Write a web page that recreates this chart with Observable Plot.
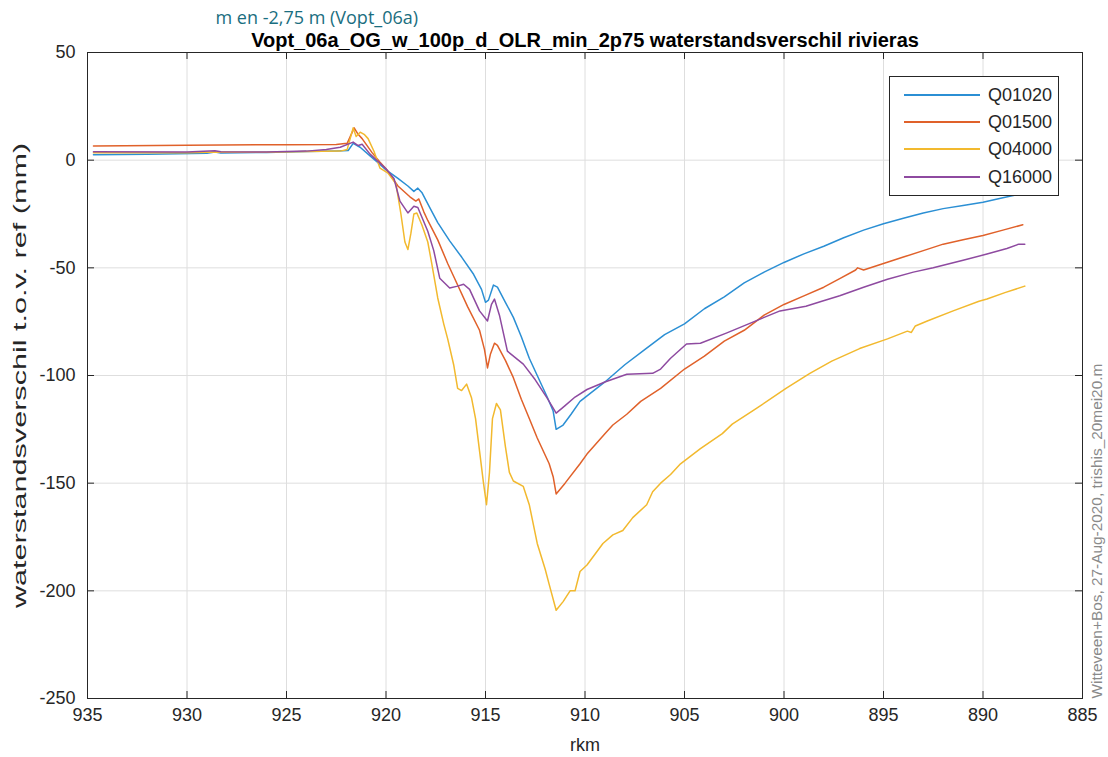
<!DOCTYPE html>
<html><head><meta charset="utf-8">
<script src="https://cdn.jsdelivr.net/npm/d3@7"></script>
<script src="https://cdn.jsdelivr.net/npm/@observablehq/plot@0.6"></script>
<style>
html,body{margin:0;padding:0;background:#fff;}
#wrap{position:relative;width:1108px;height:757px;font-family:"Liberation Sans",Arial,Helvetica,sans-serif;}
#legend{position:absolute;left:889px;top:76px;width:170px;height:120px;border:1px solid #262626;background:#fff;box-sizing:border-box;}
.row{position:absolute;left:0;height:20px;width:100%;}
.sw{position:absolute;left:14px;top:9px;width:76px;height:2px;}
.lb{position:absolute;left:98px;top:0;font-size:18px;line-height:20px;color:#262626;}
</style></head>
<body><div id="wrap"><div id="chart"></div><div id="legend"></div></div>
<script>
const seriesNames = ["Q01020","Q01500","Q04000","Q16000"];
const seriesColors = ["#2b8fd4","#e0612a","#f2b92e","#8e4aa0"];
const xTicks = [935,930,925,920,915,910,905,900,895,890,885];
const yTicks = [50,0,-50,-100,-150,-200,-250];
const titleText = "Vopt_06a_OG_w_100p_d_OLR_min_2p75 waterstandsverschil rivieras";
const subText = "m en -2,75 m (Vopt_06a)";
const xLabel = "rkm";
const yLabel = "waterstandsverschil t.o.v. ref (mm)";
const sideText = "Witteveen+Bos, 27-Aug-2020, trishis_20mei20.m";

// [rkm, mm]
const q01020 = [[934.7,2.5],[932,2.8],[929,3.2],[928.6,3.8],[928.3,3.3],[926,3.6],[924,4],[922.5,4.3],[921.9,4.5],[921.65,7.8],[921.3,6],[920.8,2],[920.3,-2],[920,-4.5],[919.4,-8.5],[918.9,-12],[918.6,-14.5],[918.4,-13],[918.2,-15],[917.8,-22],[917.4,-29],[916.8,-37.5],[916.2,-45],[915.6,-53],[915.2,-60],[915.0,-66],[914.85,-65],[914.6,-58],[914.4,-59],[914.0,-66],[913.6,-73],[913.2,-82],[912.8,-92],[912.4,-100],[911.9,-110],[911.6,-116.5],[911.45,-125],[911.1,-123],[910.7,-118],[910.25,-112],[909,-103],[908,-95],[907,-88],[906,-81],[905,-76],[904,-69],[903,-63.5],[902,-57],[901,-52],[900,-47.5],[899,-43.5],[898,-40],[897,-36],[896,-32.5],[895,-29.5],[894,-27],[893,-24.5],[892,-22.5],[891,-21],[890,-19.5],[889,-17.5],[888,-15.5]];
const q01500 = [[934.7,6.6],[930,6.9],[925,7.2],[922.5,7.3],[921.95,7.8],[921.6,15],[921.4,12],[921.2,10],[920.7,3.5],[920.3,-1],[920,-4],[919.4,-12],[918.8,-17],[918.5,-19],[918.35,-18],[918.1,-24],[917.9,-28],[917.4,-37],[916.9,-48],[916.4,-58],[915.9,-68],[915.3,-79],[915.05,-88],[914.9,-96.5],[914.75,-90],[914.55,-85],[914.4,-86],[914,-93],[913.6,-101],[913.2,-111],[912.8,-120],[912.4,-129],[911.8,-141],[911.6,-147],[911.45,-155],[911.0,-150],[910.25,-141],[909.9,-136.5],[909,-127],[908.6,-123],[907.9,-118],[907.2,-112],[906.2,-106],[905,-97],[904,-91],[903,-84],[902,-79],[901,-72],[900,-67],[899,-63],[898,-59],[897.2,-55],[896.4,-51],[896.3,-50],[896,-51],[895,-48],[894,-45],[893,-42],[892,-39],[891,-37],[890,-35],[889,-32.5],[888,-30]];
const q04000 = [[934.7,3.5],[930,3.5],[928.5,3.8],[926,3.7],[924,4],[922.3,4.2],[921.95,5],[921.65,15],[921.5,11],[921.3,13],[921.1,12],[920.9,10],[920.6,4],[920.3,-3.7],[919.9,-6],[919.5,-11],[919.25,-25],[919.05,-38],[918.9,-41.5],[918.75,-34],[918.6,-25],[918.45,-24.5],[918.2,-30],[917.9,-38],[917.7,-48],[917.4,-64],[917.1,-76],[916.9,-83],[916.6,-95],[916.4,-106],[916.2,-107],[915.95,-104],[915.7,-110.5],[915.5,-120],[915.3,-135],[915.1,-150],[914.95,-160],[914.8,-145],[914.65,-120],[914.45,-113],[914.25,-116],[914.0,-133],[913.8,-145],[913.6,-149],[913.1,-151.5],[912.8,-160],[912.4,-178],[912.0,-190],[911.8,-197],[911.45,-209],[911.1,-205],[910.75,-200],[910.5,-200],[910.25,-191],[909.9,-188],[909.1,-178],[908.6,-174],[908.1,-172],[907.6,-166],[906.9,-160],[906.6,-154],[906.2,-150],[905.7,-146],[905.2,-141],[904.2,-134],[903.1,-127],[902.6,-122.6],[901.5,-116],[899.9,-106],[898.7,-99],[897.6,-93.3],[896.2,-87.5],[894.8,-83],[893.8,-79.4],[893.6,-80],[893.4,-77],[892.8,-74.7],[891.5,-70],[890.2,-65.5],[889.8,-64.5],[888.9,-61.5],[887.9,-58.5]];
const q16000 = [[934.7,3.9],[930,3.8],[928.6,4.4],[928.3,3.9],[926,3.8],[924,4.2],[923,5],[922.3,6],[921.65,8.4],[921.4,6.8],[921.2,7.4],[920.8,2.8],[920,-4],[919.6,-8.5],[919.3,-19],[918.9,-24.5],[918.6,-21.4],[918.4,-22],[917.9,-33],[917.6,-42],[917.3,-54.8],[916.8,-59.4],[916.4,-58.5],[916.1,-57.6],[915.8,-60],[915.3,-70],[914.9,-74.7],[914.7,-67],[914.55,-64.5],[914.3,-72],[913.9,-88.7],[913.1,-94.7],[912.5,-102],[911.9,-110.5],[911.45,-117.5],[911,-114],[910.5,-110],[909.9,-106.5],[909,-103],[907.9,-99.4],[906.6,-99],[906.2,-97],[905.7,-92],[904.9,-85.4],[904.2,-85],[902.9,-80.3],[901.2,-73.8],[900.2,-70],[898.9,-67.8],[898.1,-65.5],[897.2,-63],[896,-59],[894.8,-55.3],[893.5,-52],[892.5,-50],[891,-46.5],[889.8,-43.6],[888.8,-41],[888.2,-39],[887.9,-39]];

const seriesValues = [q01020, q01500, q04000, q16000];
const data = seriesValues.flatMap((vals, i) => vals.map(([r, v]) => ({rkm: r, mm: v, name: seriesNames[i]})));

const font = '"Liberation Sans", Arial, Helvetica, sans-serif';
const chart = Plot.plot({
  width: 1108, height: 757,
  marginLeft: 87, marginRight: 26, marginTop: 52, marginBottom: 59,
  x: {domain: [935, 885]},
  y: {domain: [-250, 50]},
  color: {domain: seriesNames, range: seriesColors},
  style: {fontFamily: font, fontSize: "18px", color: "#262626", background: "white"},
  marks: [
    Plot.gridX(xTicks, {stroke: "#dedede", strokeOpacity: 1}),
    Plot.gridY(yTicks, {stroke: "#dedede", strokeOpacity: 1}),
    Plot.line(data, {x: "rkm", y: "mm", z: "name", stroke: "name", strokeWidth: 1.5}),
    Plot.frame({stroke: "#262626"}),
    Plot.tickX(xTicks, {x: d => d, insetTop: 639, stroke: "#262626"}),
    Plot.tickX(xTicks, {x: d => d, insetBottom: 639, stroke: "#262626"}),
    Plot.tickY(yTicks, {y: d => d, insetRight: 988, stroke: "#262626"}),
    Plot.tickY(yTicks, {y: d => d, insetLeft: 988, stroke: "#262626"}),
    Plot.axisX(xTicks, {tickSize: 0, tickPadding: 10, label: null, fontSize: 18, fill: "#262626", tickFormat: d => String(d)}),
    Plot.axisY(yTicks, {tickSize: 0, tickPadding: 12, label: null, fontSize: 18, fill: "#262626", tickFormat: d => String(d)}),
    Plot.text([xLabel], {frameAnchor: "bottom", lineAnchor: "middle", dy: 47, fontSize: 18, fill: "#262626"}),
    Plot.text([yLabel], {frameAnchor: "left", textAnchor: "middle", lineAnchor: "middle", rotate: -90, dx: -67, fontSize: 18, fill: "#262626", className: "ylab"}),
    Plot.text([titleText], {frameAnchor: "top", lineAnchor: "middle", dy: -12, fontSize: 20, fontWeight: "bold", fill: "#000"}),
    Plot.text([subText], {frameAnchor: "top-left", lineAnchor: "middle", dx: 128, dy: -34, textAnchor: "start", fontSize: 18, fill: "#1a6e80", fontFamily: '"Open Sans", sans-serif'}),
    Plot.text([sideText], {frameAnchor: "bottom-right", lineAnchor: "middle", dx: 15, rotate: -90, textAnchor: "start", fontSize: 14, fill: "#8a8a8a", className: "sidelab"})
  ]
});
document.getElementById("chart").appendChild(chart);

// stretch rotated labels along their length to match reference proportions
chart.querySelectorAll(".ylab text").forEach(t => t.setAttribute("transform", t.getAttribute("transform") + " scale(1.7,1)"));
chart.querySelectorAll(".sidelab text").forEach(t => t.setAttribute("transform", t.getAttribute("transform") + " scale(1.1,1)"));

const legend = document.getElementById("legend");
const rowTops = [8, 35, 62, 90];
seriesNames.forEach((n, i) => {
  const row = document.createElement("div");
  row.className = "row";
  row.style.top = rowTops[i] + "px";
  row.innerHTML = `<div class="sw" style="background:${seriesColors[i]}"></div><div class="lb">${n}</div>`;
  legend.appendChild(row);
});
</script>
</body></html>
